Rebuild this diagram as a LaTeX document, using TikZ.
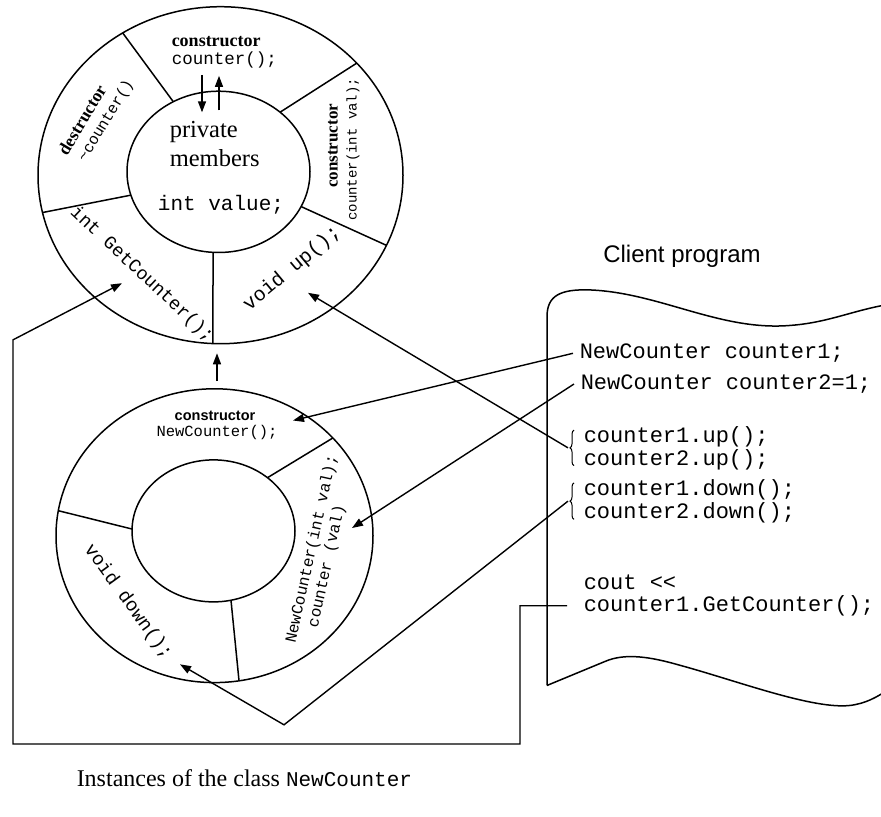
\documentclass[tikz,border=0pt]{standalone}
\usepackage{fontspec}
\setmainfont{Liberation Serif}
\setsansfont{Liberation Sans}
\setmonofont{Liberation Mono}
\usetikzlibrary{arrows.meta,calc,decorations.pathreplacing,shapes.geometric}
\newcommand\fsz[1]{\fontsize{#1}{#1}\selectfont}
\begin{document}
\begin{tikzpicture}[x=1pt,y=-0.96pt,
  line width=1.5pt,
  ring/.style={draw, ellipse, inner sep=0pt, line width=1.5pt},
  code/.style={anchor=west, inner sep=0pt, font=\ttfamily\fsz{22}},
  arr/.style={-{Triangle[length=11pt,width=8pt]}, line width=1.4pt},
  every node/.style={inner sep=0pt}]
\useasboundingbox (0,0) rectangle (881,850);
\begin{scope}
\clip (0,0) rectangle (881,850);

% ---------- base class: counter ----------
\node[ring, minimum width=365pt, minimum height=337pt] (outerA) at (220.5,182.5) {};
\node[ring, minimum width=183pt, minimum height=161.3pt] (innerA) at (218.5,179) {};
\draw ($(innerA.center)+(-119.6:91.5 and 84)$) -- ($(outerA.center)+(-122.4:182.5 and 175.5)$);
\draw ($(innerA.center)+(-47.7:91.5 and 84)$) -- ($(outerA.center)+(-41.7:182.5 and 175.5)$);
\draw ($(innerA.center)+(25.5:91.5 and 84)$) -- ($(outerA.center)+(24.6:182.5 and 175.5)$);
\draw ($(innerA.center)+(93.4:91.5 and 84)$) -- ($(outerA.center)+(92.4:182.5 and 175.5)$);
\draw ($(innerA.center)+(163.2:91.5 and 84)$) -- ($(outerA.center)+(167.2:182.5 and 175.5)$);

\node[anchor=west, font=\bfseries\fsz{18}] (ctorA) at (171,43) {constructor};
\node[anchor=west, font=\ttfamily\fsz{17.5}] (ctorAcall) at (171,62) {counter();};
\coordinate (inTop) at (202,78);  \coordinate (inBot) at (202,117);
\coordinate (outBot) at (219,115); \coordinate (outTop) at (219,79);
\draw[arr] (inTop) -- (inBot);
\draw[arr] (outBot) -- (outTop);

\node[anchor=west, font=\fsz{24.5}] (privA) at (169,138) {private};
\node[anchor=west, font=\fsz{24.5}] (membA) at (169,165) {members};
\node[font=\ttfamily\fsz{21}] (valueA) at (221,213) {int value;};

\node[rotate=59, font=\bfseries\fsz{17.5}] (dtorA) at (82,125) {destructor};
\node[rotate=59, font=\ttfamily\fsz{15.5}] (dtorAcall) at (106,126) {\textasciitilde counter()};
\node[rotate=90, font=\bfseries\fsz{17}] (ctorAval) at (333,152) {constructor};
\node[rotate=90, font=\ttfamily\fsz{14}] (ctorAvalcall) at (353,155.5) {counter(int val);};
\node[rotate=-43, font=\ttfamily\fsz{18.5}] (getA) at (142,286) {int GetCounter();};
\node[rotate=40, font=\ttfamily\fsz{20}] (upA) at (292,280) {void up();};

% ---------- derived class: NewCounter ----------
\node[ring, minimum width=317pt, minimum height=293.8pt] (outerB) at (214.5,558) {};
\node[ring, minimum width=163pt, minimum height=142pt] (innerB) at (213.5,553) {};
\draw ($(innerB.center)+(181.5:81.5 and 74)$) -- ($(outerB.center)+(189.8:158.5 and 153)$);
\draw ($(innerB.center)+(-48.5:81.5 and 74)$) -- ($(outerB.center)+(-41.7:158.5 and 153)$);
\draw ($(innerB.center)+(77.6:81.5 and 74)$) -- ($(outerB.center)+(81.1:158.5 and 153)$);

\node[font=\sffamily\bfseries\fsz{14.5}] (ctorB) at (215,433) {constructor};
\node[font=\ttfamily\fsz{15.5}] (ctorBcall) at (217,451) {NewCounter();};
\node[rotate=77.5, font=\ttfamily\fsz{16}] (ctorBval) at (312,572) {NewCounter(int val);};
\node[rotate=77.5, font=\ttfamily\fsz{16}] (ctorBvalcall) at (327,590) {counter (val)};
\node[rotate=-54, font=\ttfamily\fsz{19}] (downB) at (128,627) {void down();};

% inheritance link
\coordinate (linkB) at (217,397); \coordinate (linkA) at (217,368);
\draw[arr] (linkB) -- (linkA);

% ---------- client program sheet ----------
\draw (547,714) -- (547,330) .. controls (547,308) and (560,301) .. (590,302)
      .. controls (660,305) and (720,345) .. (790,339)
      .. controls (830,336) and (855,322) .. (895,316);
\draw (547,714) -- (605,689) .. controls (625,680) and (650,684) .. (680,693)
      .. controls (740,710) and (820,742) .. (855,734)
      .. controls (870,731) and (880,724) .. (895,714);

\node[font=\sffamily\fsz{24}] (client) at (682,267) {Client program};
\node[code] (c1) at (579,368) {NewCounter counter1;};
\node[code] (c2) at (580,400) {NewCounter counter2=1;};
\node[code] (u1) at (583,455) {counter1.up();};
\node[code] (u2) at (583,479) {counter2.up();};
\node[code] (d1) at (583,510) {counter1.down();};
\node[code] (d2) at (583,534) {counter2.down();};
\node[code] (co) at (583,607) {cout <\kern0pt<};
\node[code] (gc) at (583,631) {counter1.GetCounter();};

\draw[decorate, decoration={brace, amplitude=4pt}, line width=1pt] (574,485) -- (574,448);
\draw[decorate, decoration={brace, amplitude=4pt}, line width=1pt] (574,541) -- (574,503);
\coordinate (braceUp) at (568,466.5);
\coordinate (braceDown) at (568,522);

% ---------- calls ----------
\coordinate (tipCtor) at (293,438);
\coordinate (tipCtorVal) at (352,550);
\coordinate (tipUp) at (308,305);
\coordinate (vApex) at (284,755);
\coordinate (tipDown) at (180,692);
\coordinate (tipGet) at (122,295);
\draw[arr] ([xshift=-6pt]c1.west) -- (tipCtor);
\draw[arr] ([xshift=-6pt]c2.west) -- (tipCtorVal);
\draw[arr] (braceUp) -- (tipUp);
\draw[arr] (braceDown) -- (vApex) -- (tipDown);
\draw[arr] ([xshift=-16pt]gc.west) -- ([xshift=-63pt]gc.west) |- (13,775) -- (13,354) -- (tipGet);

\node[anchor=west, font=\fsz{24}] (caption) at (76,811) {Instances of the class {\ttfamily\fsz{21}NewCounter}};
\end{scope}
\end{tikzpicture}
\end{document}
